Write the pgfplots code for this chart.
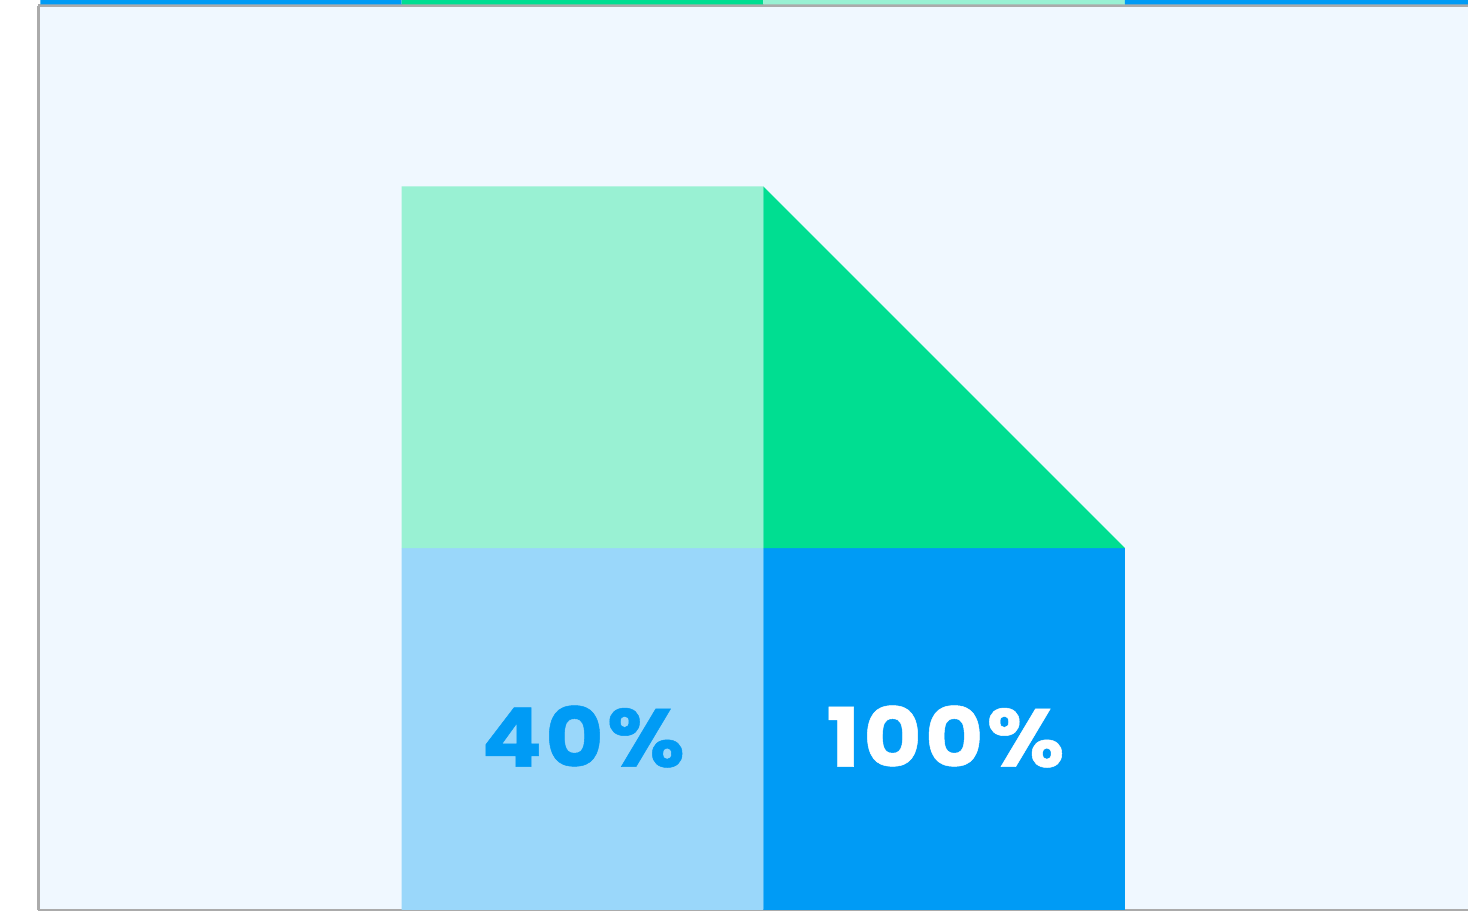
\documentclass[border=0pt]{standalone}
\usepackage{fontspec}
\setmainfont{Poppins}
\newfontfamily\labelfont[LetterSpace=4, FakeStretch=1.093, BoldFeatures={FakeBold=0.6}]{Poppins}
\usepackage{pgfplots}
\pgfplotsset{compat=1.18}

\definecolor{bgblue}{HTML}{F0F8FF}
\definecolor{cblue}{HTML}{009BF5}
\definecolor{clightblue}{HTML}{9AD7FA}
\definecolor{cgreen}{HTML}{00DE91}
\definecolor{clightgreen}{HTML}{99F1D3}
\definecolor{frame}{HTML}{ABABAB}

\begin{document}
\begin{tikzpicture}
  \begin{axis}[
    x=181pt, y=181pt,
    xmin=-0.004, xmax=3.948,
    ymin=0, ymax=2.5,
    axis x line*=box,
    axis y line*=left,
    axis line style={frame, line width=1.2pt},
    ticks=none,
    clip=false,
    axis background/.style={fill=bgblue},
  ]
    % lower blocks
    \addplot[fill=clightblue, draw=none] coordinates {(1,0) (2,0) (2,1) (1,1) (1,0)};
    \addplot[fill=cblue, draw=none] coordinates {(2,0) (3,0) (3,1) (2,1) (2,0)};
    % upper blocks
    \addplot[fill=clightgreen, draw=none] coordinates {(1,1) (2,1) (2,2) (1,2) (1,1)};
    \addplot[fill=cgreen, draw=none] coordinates {(2,1) (3,1) (2,2) (2,1)};
    % strip above the top edge
    \addplot[fill=cblue, draw=none] coordinates {(0.001,2.5033) (1,2.5033) (1,2.5156) (0.001,2.5156) (0.001,2.5033)};
    \addplot[fill=cgreen, draw=none] coordinates {(1,2.5033) (2,2.5033) (2,2.5156) (1,2.5156) (1,2.5033)};
    \addplot[fill=clightgreen, draw=none] coordinates {(2,2.5033) (3,2.5033) (3,2.5156) (2,2.5156) (2,2.5033)};
    \addplot[fill=cblue, draw=none] coordinates {(3,2.5033) (3.948,2.5033) (3.948,2.5156) (3,2.5156) (3,2.5033)};
    % value labels
    \addplot[only marks, mark=none, point meta=explicit symbolic,
      nodes near coords={\pgfplotspointmeta\%},
      nodes near coords style={anchor=base, font=\labelfont\fontsize{41}{47}\selectfont\bfseries, text=cblue}]
      coordinates {(1.502,0.396)[40]};
    \addplot[only marks, mark=none, point meta=explicit symbolic,
      nodes near coords={\pgfplotspointmeta\%},
      nodes near coords style={anchor=base, font=\labelfont\fontsize{41}{47}\selectfont\bfseries, text=white}]
      coordinates {(2.504,0.396)[100]};
  \end{axis}
  \path (current axis.south west) ++(-19.25pt,-0.75pt);
\end{tikzpicture}
\end{document}
